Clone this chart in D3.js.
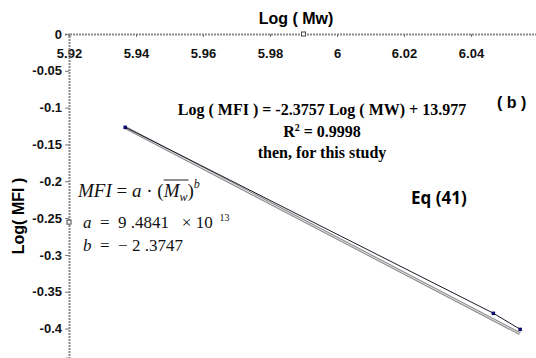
<!DOCTYPE html>
<html>
<head>
<meta charset="utf-8">
<script src="https://cdn.jsdelivr.net/npm/d3@7"></script>
<style>
  body { margin: 0; background: #fff; }
  svg { display: block; }
  .pre { white-space: pre; }
</style>
</head>
<body>
<div id="chart"></div>
<script>
// data
const logMw = [5.9367, 6.0466, 6.0546];
const logMfi = [-0.1264, -0.379, -0.4008];
const xTicks = [5.92, 5.94, 5.96, 5.98, 6.0, 6.02, 6.04];
const yTicks = [0, -0.05, -0.1, -0.15, -0.2, -0.25, -0.3, -0.35, -0.4];
const fitSlope = -2.3757;
const fitIntercept = 13.977;

const width = 536, height = 358;

const svg = d3.select('#chart')
  .append('svg')
  .attr('width', width)
  .attr('height', height);

// scales
const x = d3.scaleLinear().domain([5.92, 6.06]).range([69, 538]);
const y = d3.scaleLinear().domain([0, -0.44]).range([34, 358]);

const pts = logMw.map((d, i) => ({ x: d, y: logMfi[i] }));
const fmt = d => String(+d.toFixed(2)); // plain hyphen minus like the original

// axes
const xAxis = svg.append('g')
  .attr('transform', `translate(0,${y(0)})`)
  .call(d3.axisBottom(x).tickValues(xTicks).tickSize(3).tickFormat(fmt));
xAxis.select('.domain').attr('stroke', '#8a8a8a').attr('stroke-width', 2).attr('stroke-dasharray', '2,1');
xAxis.selectAll('.tick line').attr('stroke', '#777');
xAxis.selectAll('.tick text')
  .attr('y', 15)
  .attr('font-family', 'Liberation Sans, Arial, sans-serif')
  .attr('font-weight', 'bold')
  .attr('font-size', 13)
  .attr('fill', '#111');

const yAxis = svg.append('g')
  .attr('transform', `translate(${x(5.92)},0)`)
  .call(d3.axisLeft(y).tickValues(yTicks).tickSize(4).tickFormat(fmt));
yAxis.select('.domain').attr('stroke', '#8a8a8a').attr('stroke-width', 2).attr('stroke-dasharray', '2,1');
yAxis.selectAll('.tick line').attr('stroke', '#777');
yAxis.selectAll('.tick text')
  .attr('x', -7)
  .attr('font-family', 'Liberation Sans, Arial, sans-serif')
  .attr('font-weight', 'bold')
  .attr('font-size', 13)
  .attr('fill', '#111');

// handle squares on axes
svg.append('rect').attr('x', x(5.99) - 2).attr('y', y(0) - 2).attr('width', 4).attr('height', 4)
  .attr('fill', '#fff').attr('stroke', '#444');
svg.append('rect').attr('x', x(5.92) - 2).attr('y', y(-0.2555) - 2).attr('width', 4).attr('height', 4)
  .attr('fill', '#fff').attr('stroke', '#444');

// axis titles
svg.append('text')
  .attr('x', 296).attr('y', 24)
  .attr('text-anchor', 'middle')
  .attr('font-family', 'Liberation Sans, Arial, sans-serif')
  .attr('font-weight', 'bold').attr('font-size', 16)
  .text('Log ( Mw)');

svg.append('text')
  .attr('transform', 'translate(24,216) rotate(-90)')
  .attr('text-anchor', 'middle')
  .attr('font-family', 'Liberation Sans, Arial, sans-serif')
  .attr('font-weight', 'bold').attr('font-size', 16)
  .text('Log( MFI )');

// trendline (double-stroke look)
const xr = d3.extent(logMw);
const fit = xr.map(v => ({ x: v, y: fitSlope * v + fitIntercept }));
const line = d3.line().x(d => x(d.x)).y(d => y(d.y));
svg.append('path').datum(fit).attr('d', line)
  .attr('fill', 'none').attr('stroke', '#8c8c8c').attr('stroke-width', 3);
svg.append('path').datum(fit).attr('d', line)
  .attr('fill', 'none').attr('stroke', '#e6e6e6').attr('stroke-width', 1);

// data line
svg.append('path').datum(pts).attr('d', line)
  .attr('fill', 'none').attr('stroke', '#1a1a2a').attr('stroke-width', 1);

svg.selectAll('.pt')
  .data(pts)
  .enter()
  .append('rect')
  .attr('class', 'pt')
  .attr('x', d => x(d.x) - 1.5)
  .attr('y', d => y(d.y) - 1.5)
  .attr('width', 3.5).attr('height', 3.5)
  .attr('fill', '#0a0a6e');

// regression text
const eq = svg.append('g')
  .attr('font-family', 'Liberation Serif, Times New Roman, serif')
  .attr('font-weight', 'bold').attr('font-size', 16)
  .attr('text-anchor', 'middle');
eq.append('text').attr('x', 322).attr('y', 115)
  .text('Log ( MFI ) = -2.3757 Log ( MW) + 13.977');
const r2 = eq.append('text').attr('x', 322).attr('y', 137);
r2.append('tspan').text('R');
r2.append('tspan').attr('font-size', 10).attr('dy', -6).text('2');
r2.append('tspan').attr('dy', 6).text(' = 0.9998');
eq.append('text').attr('x', 322).attr('y', 158).text('then, for this study');

svg.append('text')
  .attr('x', 497).attr('y', 108)
  .attr('font-family', 'Liberation Sans, Arial, sans-serif')
  .attr('font-weight', 'bold').attr('font-size', 16)
  .text('( b )');

svg.append('text')
  .attr('x', 411).attr('y', 204)
  .attr('font-family', 'Open Sans, Liberation Sans, sans-serif')
  .attr('font-weight', 'bold').attr('font-size', 17)
  .text('Eq (41)');

// model formula
const f = svg.append('g')
  .attr('font-family', 'Liberation Serif, Times New Roman, serif')
  .attr('font-size', 19).attr('fill', '#111');
const t1 = f.append('text').attr('class', 'pre').attr('x', 78).attr('y', 197);
t1.append('tspan').attr('font-style', 'italic').text('MFI');
t1.append('tspan').text(' = ');
t1.append('tspan').attr('font-style', 'italic').text('a');
t1.append('tspan').text(' · (');
const mSpan = t1.append('tspan').attr('font-style', 'italic').text('M');
const wSpan = t1.append('tspan').attr('font-style', 'italic').attr('font-size', 12).attr('dy', 4).text('w');
t1.append('tspan').attr('dy', -4).text(')');
t1.append('tspan').attr('font-style', 'italic').attr('font-size', 12).attr('dy', -9).text('b');
// overline across M_w, measured from the rendered glyphs
const mx0 = mSpan.node().getStartPositionOfChar(0).x;
const wx1 = wSpan.node().getEndPositionOfChar(0).x;
f.append('line').attr('x1', mx0).attr('x2', wx1 + 1).attr('y1', 180).attr('y2', 180)
  .attr('stroke', '#222').attr('stroke-width', 1);

const t2 = f.append('text').attr('class', 'pre').attr('x', 83).attr('y', 228).attr('font-size', 17);
t2.append('tspan').attr('font-style', 'italic').text('a');
t2.append('tspan').text('  =  9 .4841   × 10 ');
t2.append('tspan').attr('font-size', 10).attr('dy', -7).text(' 13');

const t3 = f.append('text').attr('class', 'pre').attr('x', 83).attr('y', 251).attr('font-size', 17);
t3.append('tspan').attr('font-style', 'italic').text('b');
t3.append('tspan').text('  =  − 2 .3747');
</script>
</body>
</html>
